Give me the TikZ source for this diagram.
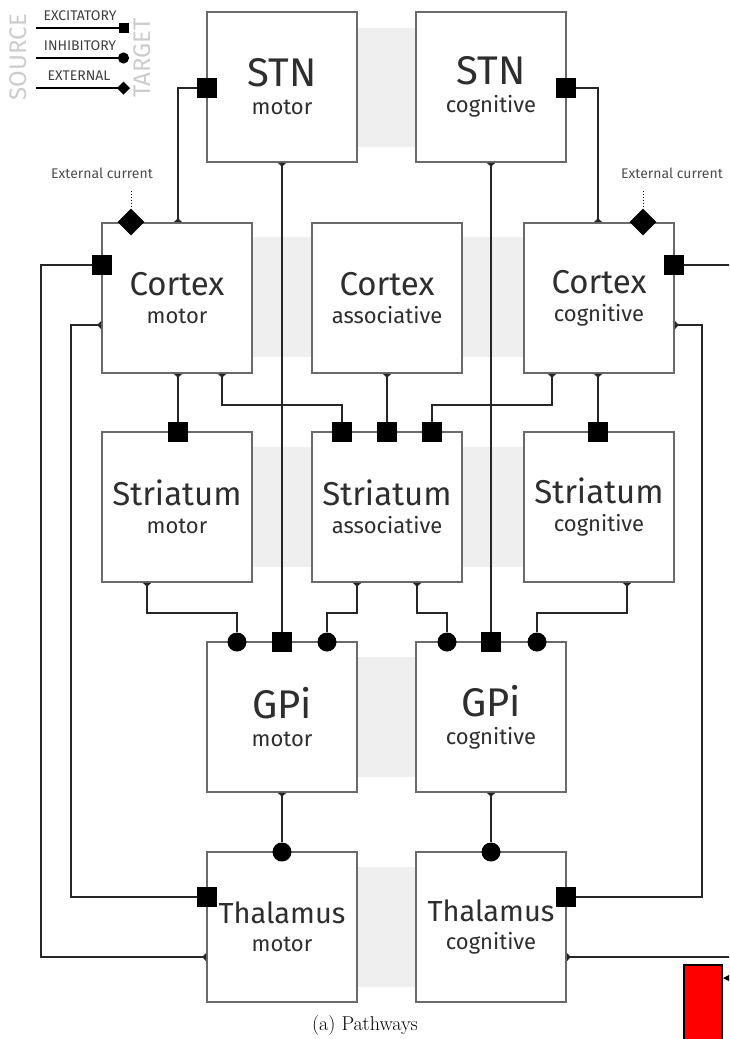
\documentclass[tikz,border=0pt]{standalone}
\usepackage{fontspec}
\usepackage{tikz}
\usetikzlibrary{arrows.meta,shapes.geometric,positioning,calc}
\newfontfamily\fira{Fira Sans}
\definecolor{bandgray}{HTML}{EFEFEF}
\definecolor{boxline}{HTML}{6A6A6A}
\definecolor{inkgray}{HTML}{2E2E2E}
\newcommand{\arealabel}[4][4pt]{{\fontsize{#2}{#2}\selectfont #3}\\[#1]{\fontsize{22}{22}\selectfont #4}}

\begin{document}
\begin{tikzpicture}[x=1pt, y=-1pt,
    area/.style={draw=boxline, line width=1.8pt, fill=white, minimum width=150pt, minimum height=150pt,
        inner sep=0pt, align=center, font=\fira\fontsize{22}{24}\selectfont, text=inkgray},
    band/.style={fill=bandgray},
    link/.style={line width=2.2pt, draw=black!85, {Triangle[reversed,length=4pt,width=8pt]}-},
    exc/.style={rectangle, fill=black, minimum size=20pt, inner sep=0pt},
    inh/.style={circle, fill=black, minimum size=19pt, inner sep=0pt},
    ext/.style={diamond, fill=black, minimum size=27pt, inner sep=0pt},
    note/.style={font=\fira\fontsize{14}{14}\selectfont, text=black!70},
    legend/.style={font=\fira\fontsize{14}{14}\selectfont, text=black!75, inner sep=0pt},
    side/.style={font=\fira\fontsize{24}{24}\selectfont, text=black!20, rotate=90, inner sep=0pt},
    legline/.style={line width=2pt, {Bar[width=13pt] Triangle[reversed,length=4pt,width=8pt]}-}]
    \useasboundingbox (0,0) rectangle (729,1039);
    \clip (0,0) rectangle (729,1039);

    % Legend
    \node[side] (source) at (18,57) {SOURCE};
    \node[side] (target) at (142,58) {TARGET};
    \node[legend] (lexc) at (80,16) {EXCITATORY};
    \node[legend] (linh) at (80,46) {INHIBITORY};
    \node[legend] (lext) at (79,76) {EXTERNAL};
    \draw[legline, -{Square[length=10pt,width=10pt]}] (36,28) -- (129,28);
    \draw[legline, -{Circle[length=11pt]}] (36,58) -- (129,58);
    \draw[legline, -{Turned Square[length=13pt,width=13pt]}] (36,88) -- (130,88);

    % Grey bands
    \fill[band] (357,28) rectangle (416,147);
    \fill[band] (252,237) rectangle (524,357);
    \fill[band] (252,447) rectangle (524,567);
    \fill[band] (357,657) rectangle (416,777);
    \fill[band] (357,867) rectangle (416,987);

    % Areas
    \node[area] (stnm) at (282,87) {\arealabel{40}{STN}{motor}};
    \node[area] (stnc) at (491,87) {\arealabel{40}{STN}{cognitive}};
    \node[area] (ctxm) at (177,298) {\arealabel{33}{Cortex}{motor}};
    \node[area] (ctxa) at (387,298) {\arealabel{33}{Cortex}{associative}};
    \node[area] (ctxc) at (599,298) {\arealabel{33}{Cortex}{cognitive}};
    \node[area] (strm) at (177,507) {\arealabel{33}{Striatum}{motor}};
    \node[area] (stra) at (387,507) {\arealabel{33}{Striatum}{associative}};
    \node[area] (strc) at (599,507) {\arealabel{33}{Striatum}{cognitive}};
    \node[area] (gpim) at (282,717) {\arealabel{40}{GPi}{motor}};
    \node[area] (gpic) at (491,717) {\arealabel{40}{GPi}{cognitive}};
    \node[area] (thm) at (282,927) {\arealabel{29}{Thalamus}{motor}};
    \node[area] (thc) at (491,927) {\arealabel{29}{Thalamus}{cognitive}};

    % External current
    \node[note] (curm) at (102,173) {External current};
    \node[note] (curc) at (672,173) {External current};
    \node[ext] (ctxm-ext) at (131,222) {};
    \node[ext] (ctxc-ext) at (643,222) {};
    \draw[line width=1pt, dotted, shorten <=9pt] (curm.south -| ctxm-ext) -- (ctxm-ext);
    \draw[line width=1pt, dotted, shorten <=9pt] (curc.south -| ctxc-ext) -- (ctxc-ext);

    % Targets
    \node[exc] (stnm-w) at (207,88) {};
    \node[exc] (stnc-e) at (566,88) {};
    \node[exc] (ctxm-w) at (102,265) {};
    \node[exc] (ctxc-e) at (674,265) {};
    \node[exc] (thm-w) at (207,897) {};
    \node[exc] (thc-e) at (566,897) {};
    \node[exc] (strm-n) at (178,432) {};
    \node[exc] (stra-n1) at (342,432) {};
    \node[exc] (stra-n2) at (387,432) {};
    \node[exc] (stra-n3) at (432,432) {};
    \node[exc] (strc-n) at (598,432) {};
    \node[inh] (gpim-n1) at (237,642) {};
    \node[exc] (gpim-n2) at (282,642) {};
    \node[inh] (gpim-n3) at (327,642) {};
    \node[inh] (gpic-n1) at (447,642) {};
    \node[exc] (gpic-n2) at (491,642) {};
    \node[inh] (gpic-n3) at (537,642) {};
    \node[inh] (thm-n) at (282,852) {};
    \node[inh] (thc-n) at (491,852) {};

    % Cortex -> STN
    \draw[link] (ctxm.north -| 178,0) |- (stnm-w);
    \draw[link] (ctxc.north -| 598,0) |- (stnc-e);

    % Thalamus <-> Cortex
    \draw[link] (thm.west |- 0,957) -- ++(-165,0) |- (ctxm-w);
    \draw[link] (ctxm.west |- 0,325) -- ++(-30,0) |- (thm-w);
    \draw[link] (thc.east |- 0,957) -- ++(200,0) |- (ctxc-e);
    \draw[link] (ctxc.east |- 0,325) -- ++(27,0) |- (thc-e);

    % Cortex -> Striatum
    \draw[link] (ctxm.south -| strm-n) -- (strm-n);
    \draw[link] (ctxm.south -| 222,0) -- ++(0,31) -| (stra-n1);
    \draw[link] (ctxa.south) -- (stra-n2);
    \draw[link] (ctxc.south -| 552,0) -- ++(0,31) -| (stra-n3);
    \draw[link] (ctxc.south -| strc-n) -- (strc-n);

    % Striatum, STN -> GPi
    \draw[link] (strm.south -| 147,0) -- ++(0,30) -| (gpim-n1);
    \draw[link] (stnm.south) -- (gpim-n2);
    \draw[link] (stra.south -| 357,0) -- ++(0,30) -| (gpim-n3);
    \draw[link] (stra.south -| 417,0) -- ++(0,30) -| (gpic-n1);
    \draw[link] (stnc.south) -- (gpic-n2);
    \draw[link] (strc.south -| 627,0) -- ++(0,30) -| (gpic-n3);

    % GPi -> Thalamus
    \draw[link] (gpim.south) -- (thm-n);
    \draw[link] (gpic.south) -- (thc-n);

    % Red box
    \draw[line width=1.5pt, fill=red] (684,965) rectangle (722,1045);
    \fill (723,978) -- (731,974) -- (731,982) -- cycle;

    \node[font=\fontsize{20}{20}\selectfont] (caption) at (365,1025) {(a) Pathways};
\end{tikzpicture}
\end{document}
